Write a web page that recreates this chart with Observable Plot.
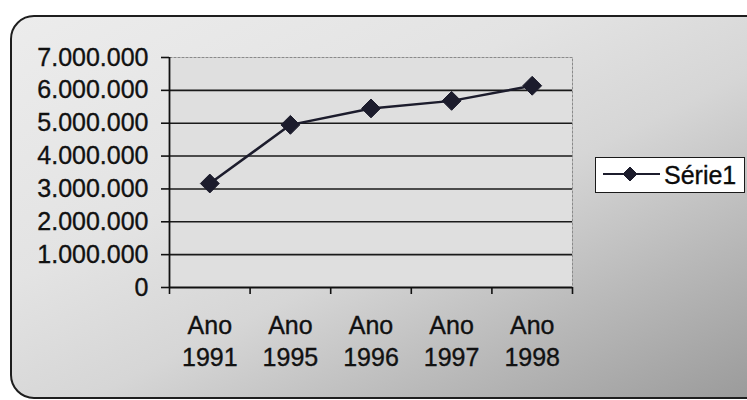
<!DOCTYPE html>
<html>
<head>
<meta charset="utf-8">
<script src="https://cdn.jsdelivr.net/npm/d3@7"></script>
<script src="https://cdn.jsdelivr.net/npm/@observablehq/plot@0.6"></script>
<style>
  html, body { margin: 0; padding: 0; background: #fff; }
  #wrap { position: relative; width: 747px; height: 400px; overflow: hidden; background: #fff; font-family: "Liberation Sans", Arial, sans-serif; }
  #panel { position: absolute; left: 10px; top: 15px; width: 770px; height: 380px; border: 2px solid #1e1e1e; border-radius: 24px;
    background: linear-gradient(to bottom right, #ececec 0%, #e3e3e3 35%, #d6d6d6 55%, #bababa 75%, #989898 100%); }
  #chart { position: absolute; left: 0; top: 0; }
  #chart svg text { stroke: #111; stroke-width: 0.35px; }
  #legend { position: absolute; left: 595px; top: 157px; width: 148px; height: 34px; background: #fff; border: 1.5px solid #1a1a1a;
    display: flex; align-items: center; }
  #legend span { font-size: 25px; color: #0a0a0a; margin-left: 4px; -webkit-text-stroke: 0.35px #111; }
</style>
</head>
<body>
<div id="wrap">
  <div id="panel"></div>
  <div id="chart"></div>
  <div id="legend"><svg width="64" height="34"><line x1="7" x2="64" y1="16" y2="16" stroke="#1c1c2c" stroke-width="2"/><path d="M34,9 L41,16 L34,23 L27,16 Z" fill="#1c1c2c" stroke="#1c1c2c" stroke-width="1"/></svg><span>Série1</span></div>
</div>
<script>
const categories = ["Ano\n1991", "Ano\n1995", "Ano\n1996", "Ano\n1997", "Ano\n1998"];
const values = [3165000, 4950000, 5450000, 5680000, 6140000];
const yTicks = [0, 1000000, 2000000, 3000000, 4000000, 5000000, 6000000, 7000000];
const seriesName = "Série1";

const data = categories.map((c, i) => ({i, label: c, value: values[i]}));
const bounds = d3.range(categories.length + 1).map(k => k - 0.5);
const fmt = d3.formatLocale({thousands: ".", grouping: [3], decimal: ",", currency: ["", ""]}).format(",d");
const ink = "#111";
const lineColor = "#1c1c2c";

const chart = Plot.plot({
  width: 747,
  height: 400,
  marginLeft: 169,
  marginRight: 175,
  marginTop: 57,
  marginBottom: 113,
  style: {background: "transparent", fontFamily: "Liberation Sans, Arial, sans-serif", color: ink},
  x: {type: "linear", domain: [-0.5, categories.length - 0.5], axis: null},
  y: {domain: [0, 7000000], axis: null},
  marks: [
    Plot.frame({fill: "#dfdfdf", stroke: "none"}),
    Plot.frame({stroke: "#8a8a8a", strokeWidth: 1, strokeDasharray: "3,1"}),
    Plot.gridY(yTicks.slice(1, -1), {stroke: "#1a1a1a", strokeOpacity: 1, strokeWidth: 1.6}),
    Plot.axisY({ticks: yTicks, tickFormat: fmt, tickSize: 8, tickPadding: 13, fontSize: 25, stroke: ink, strokeWidth: 1.6, label: null}),
    Plot.axisX({ticks: bounds, tickFormat: () => "", tickSize: 7, stroke: ink, strokeWidth: 1.6, label: null}),
    Plot.ruleY([0], {stroke: ink, strokeWidth: 1.8}),
    Plot.ruleX([-0.5], {stroke: ink, strokeWidth: 1.8}),
    Plot.text(data, {x: "i", y: () => 0, text: "label", dy: 52, fontSize: 25, lineHeight: 1.28, lineAnchor: "middle", fill: ink}),
    Plot.line(data, {x: "i", y: "value", stroke: lineColor, strokeWidth: 2.5}),
    Plot.dot(data, {x: "i", y: "value", symbol: "diamond2", r: 8.5, fill: lineColor, stroke: lineColor, strokeWidth: 1})
  ]
});
document.getElementById("chart").appendChild(chart);
document.querySelector("#legend span").textContent = seriesName;
</script>
</body>
</html>
